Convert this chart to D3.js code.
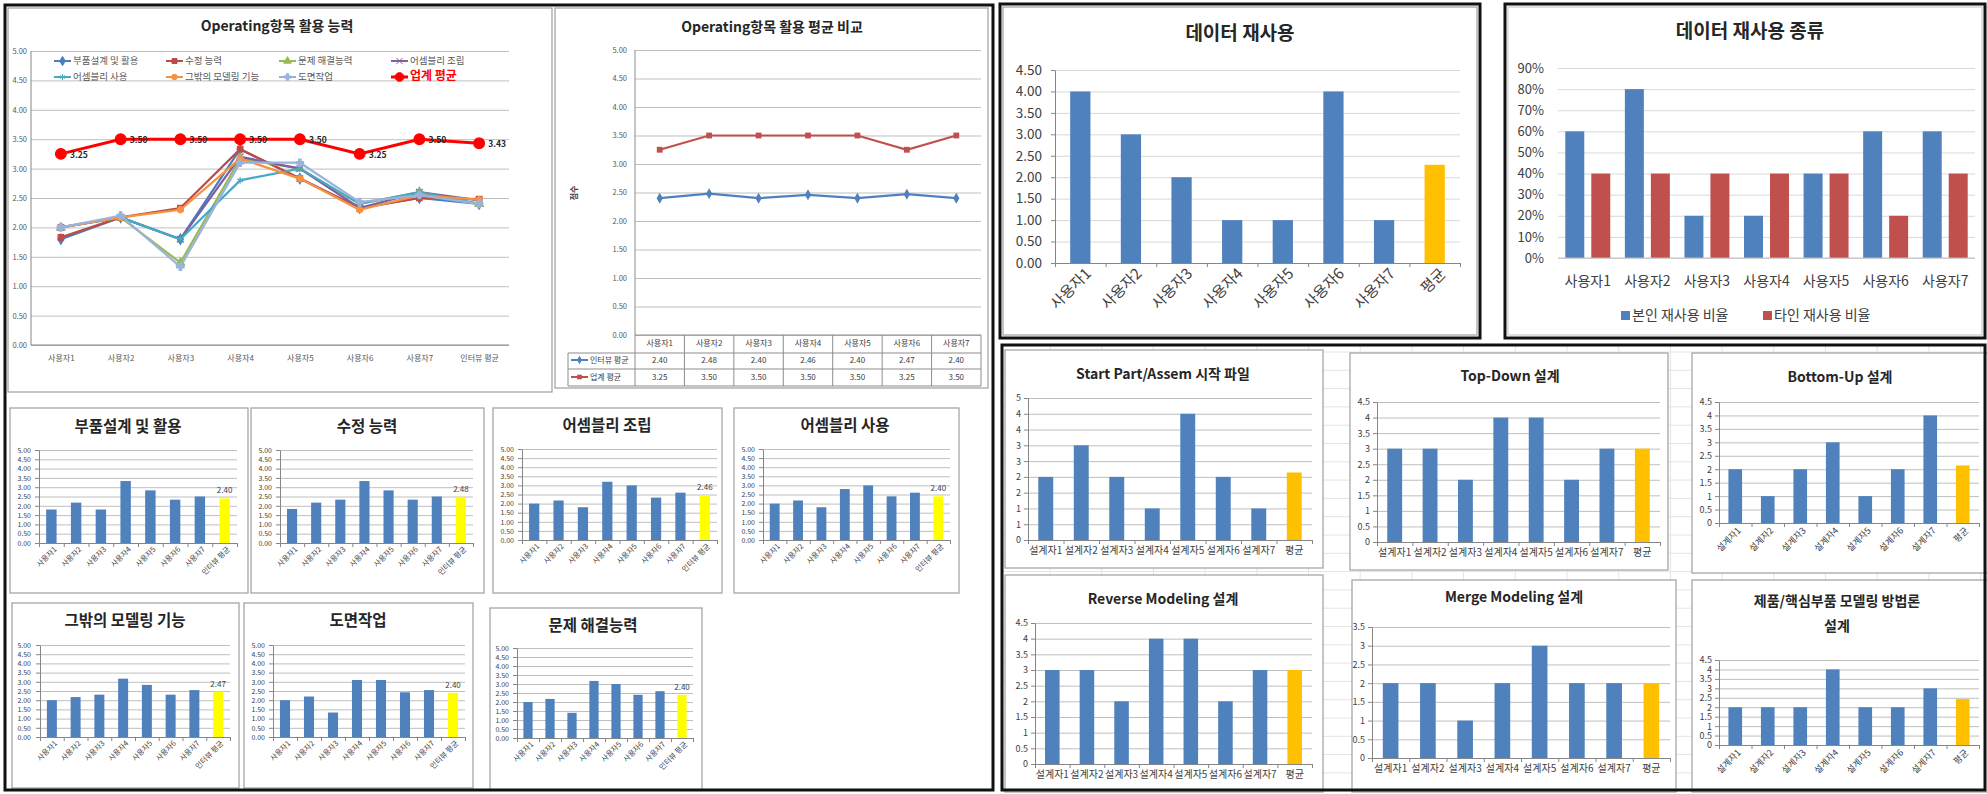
<!DOCTYPE html>
<html>
<head>
<meta charset="utf-8">
<script src="https://cdn.jsdelivr.net/npm/d3@7"></script>
<style>
body { margin: 0; background: #fff; }
svg { display: block; }
</style>
</head>
<body>
<svg id="chart" width="1987" height="794"></svg>
<script>
// ---- data ----
const users7 = ["사용자1", "사용자2", "사용자3", "사용자4", "사용자5", "사용자6", "사용자7"];
const usersAvg = users7.concat(["인터뷰 평균"]);
const designers = ["설계자1", "설계자2", "설계자3", "설계자4", "설계자5", "설계자6", "설계자7", "평균"];

// operating item scores (사용자1..7) and interview average
const partDesign = [1.80, 2.17, 1.80, 3.33, 2.83, 2.33, 2.50];
const partDesignAvg = 2.40;
const modifyAbility = [1.83, 2.17, 2.33, 3.33, 2.83, 2.33, 2.50];
const modifyAbilityAvg = 2.48;
const problemSolving = [2.00, 2.17, 1.40, 3.17, 3.00, 2.40, 2.60];
const problemSolvingAvg = 2.40;
const asmBuild = [2.00, 2.17, 1.80, 3.20, 3.00, 2.33, 2.60];
const asmBuildAvg = 2.46;
const asmUse = [2.00, 2.17, 1.80, 2.80, 3.00, 2.40, 2.60];
const asmUseAvg = 2.40;
const otherModeling = [2.00, 2.17, 2.30, 3.17, 2.83, 2.30, 2.55];
const otherModelingAvg = 2.47;
const drawing = [2.00, 2.20, 1.33, 3.10, 3.10, 2.43, 2.55];
const drawingAvg = 2.40;
const industryLine = [3.25, 3.50, 3.50, 3.50, 3.50, 3.25, 3.50, 3.43];

// average comparison table
const interviewAvg = [2.40, 2.48, 2.40, 2.46, 2.40, 2.47, 2.40];
const industryAvg = [3.25, 3.50, 3.50, 3.50, 3.50, 3.25, 3.50];

// data reuse
const reuse = [4, 3, 2, 1, 1, 4, 1];
const reuseAvg = 2.29;
const ownReuse = [0.6, 0.8, 0.2, 0.2, 0.4, 0.6, 0.6];
const otherReuse = [0.4, 0.4, 0.4, 0.4, 0.4, 0.2, 0.4];

// design methods (설계자1..7) and average
const startPart = [2, 3, 2, 1, 4, 2, 1];
const startPartAvg = 2.14;
const topDown = [3, 3, 2, 4, 4, 2, 3];
const topDownAvg = 3.0;
const bottomUp = [2, 1, 2, 3, 1, 2, 4];
const bottomUpAvg = 2.14;
const reverseModel = [3, 3, 2, 4, 4, 2, 3];
const reverseModelAvg = 3.0;
const mergeModel = [2, 2, 1, 2, 3, 2, 2];
const mergeModelAvg = 2.0;
const productModel = [2, 2, 2, 4, 2, 2, 3];
const productModelAvg = 2.43;

const FONT = "'Noto Sans CJK KR','Noto Sans',sans-serif";
const BLUE = "#4F81BD", RED = "#C0504D";
const svg = d3.select("#chart").attr("font-family", FONT);

// ---- generic bar chart ----
function bars(o) {
  const g = svg.append("g");
  g.append("rect").attr("x", o.box[0]).attr("y", o.box[1]).attr("width", o.box[2]).attr("height", o.box[3])
    .attr("fill", "#fff").attr("stroke", "#A6A6A6").attr("stroke-width", 1.3);
  o.title.forEach((t, i) => {
    g.append("text").attr("x", o.tx).attr("y", o.ty + i * (o.tlh || 0)).attr("text-anchor", "middle")
      .attr("dominant-baseline", "middle").attr("font-size", o.tsize).attr("font-weight", "bold")
      .attr("fill", "#262626").text(t);
  });
  const [x0, x1, yT, yB] = o.plot;
  const vals = o.vals.concat([o.avg]);
  const x = d3.scaleBand().domain(o.cats).range([x0, x1]).paddingInner(o.pad).paddingOuter(o.pad / 2);
  const y = d3.scaleLinear().domain([0, o.yMax]).range([yB, yT]);
  const ticks = d3.range(0, o.yMax + 1e-9, o.yStep);

  g.append("g").attr("transform", `translate(${x0},0)`)
    .call(d3.axisLeft(y).tickValues(ticks).tickSize(-(x1 - x0)).tickFormat(""))
    .call(a => a.select(".domain").remove())
    .selectAll("line").attr("stroke", o.grid || "#BFBFBF");

  g.append("g").attr("transform", `translate(${o.ylx},0)`)
    .call(d3.axisLeft(y).tickValues(ticks).tickSize(0).tickPadding(0).tickFormat(o.yFmt))
    .attr("font-family", FONT)
    .call(a => a.select(".domain").remove())
    .selectAll("text").attr("font-size", o.yFont).attr("fill", o.txt || "#404040");

  g.selectAll("rect.bar").data(vals).join("rect").attr("class", "bar")
    .attr("x", (d, i) => x(o.cats[i])).attr("y", d => y(d))
    .attr("width", x.bandwidth()).attr("height", d => yB - y(d))
    .attr("fill", (d, i) => i === vals.length - 1 ? o.avgColor : BLUE);

  // axes lines and tick marks
  g.append("g").attr("transform", `translate(${x0},0)`)
    .call(d3.axisLeft(y).tickValues(ticks).tickSize(4).tickSizeOuter(0).tickFormat(""))
    .selectAll("path,line").attr("stroke", "#868686");
  const xe = d3.scaleLinear().domain([0, o.cats.length]).range([x0, x1]);
  g.append("g").attr("transform", `translate(0,${yB})`)
    .call(d3.axisBottom(xe).ticks(o.cats.length).tickSize(4).tickSizeOuter(0).tickFormat(""))
    .selectAll("path,line").attr("stroke", "#868686");

  const xl = g.append("g").attr("transform", `translate(0,${yB})`)
    .call(d3.axisBottom(x).tickSize(0).tickPadding(o.xpad))
    .attr("font-family", FONT)
    .call(a => a.select(".domain").remove());
  xl.selectAll("text").attr("font-size", o.xFont).attr("fill", o.txt || "#404040");
  if (o.rot) {
    xl.selectAll("text").attr("x", 0).attr("y", 0).attr("dy", "0.35em")
      .attr("text-anchor", "end")
      .attr("transform", `translate(${o.rdx || 4},${o.xpad}) rotate(-45)`);
  }
  if (o.avgLabel) {
    g.append("text").attr("x", x(o.cats[o.cats.length - 1]) + x.bandwidth() / 2).attr("y", y(o.avg) - 5)
      .attr("text-anchor", "middle").attr("font-size", 8).attr("fill", "#404040").text(o.avgLabel);
  }
}

// ---- left panel : operating line chart ----
(function () {
  const g = svg.append("g");
  g.append("rect").attr("x", 8).attr("y", 8).attr("width", 544).attr("height", 384)
    .attr("fill", "#fff").attr("stroke", "#A6A6A6").attr("stroke-width", 1.3);
  g.append("text").attr("x", 277).attr("y", 27).attr("text-anchor", "middle").attr("dominant-baseline", "middle")
    .attr("font-size", 14).attr("font-weight", "bold").attr("fill", "#262626").text("Operating항목 활용 능력");

  const x = d3.scalePoint().domain(usersAvg).range([31, 509]).padding(0.5);
  const y = d3.scaleLinear().domain([0, 5]).range([345, 51]);
  const ticks = d3.range(0, 5.001, 0.5);
  g.append("g").attr("transform", "translate(31,0)")
    .call(d3.axisLeft(y).tickValues(ticks).tickSize(-478).tickFormat(""))
    .call(a => a.select(".domain").remove())
    .selectAll("line").attr("stroke", "#BFBFBF");
  g.append("g").attr("transform", "translate(27,0)")
    .call(d3.axisLeft(y).tickValues(ticks).tickSize(0).tickPadding(0).tickFormat(d3.format(".2f")))
    .attr("font-family", FONT)
    .call(a => a.select(".domain").remove())
    .selectAll("text").attr("font-size", 7.5).attr("fill", "#595959");
  g.append("line").attr("x1", 31).attr("x2", 31).attr("y1", 51).attr("y2", 345).attr("stroke", "#868686");
  g.append("line").attr("x1", 31).attr("x2", 509).attr("y1", 345).attr("y2", 345).attr("stroke", "#868686");
  g.append("g").attr("transform", "translate(0,345)")
    .call(d3.axisBottom(x).tickSize(0).tickPadding(10))
    .attr("font-family", FONT)
    .call(a => a.select(".domain").remove())
    .selectAll("text").attr("font-size", 8).attr("fill", "#595959");

  const series = [
    { name: "부품설계 및 활용", v: partDesign.concat([partDesignAvg]), c: "#4A7EBB", s: d3.symbolDiamond },
    { name: "수정 능력", v: modifyAbility.concat([modifyAbilityAvg]), c: "#BE4B48", s: d3.symbolSquare },
    { name: "문제 해결능력", v: problemSolving.concat([problemSolvingAvg]), c: "#98B954", s: d3.symbolTriangle },
    { name: "어셈블리 조립", v: asmBuild.concat([asmBuildAvg]), c: "#7D60A0", s: d3.symbolTimes || d3.symbolCross },
    { name: "어셈블리 사용", v: asmUse.concat([asmUseAvg]), c: "#46AAC5", s: d3.symbolAsterisk || d3.symbolStar },
    { name: "그밖의 모델링 기능", v: otherModeling.concat([otherModelingAvg]), c: "#F69240", s: d3.symbolCircle },
    { name: "도면작업", v: drawing.concat([drawingAvg]), c: "#98B4DC", s: d3.symbolCross },
    { name: "업계 평균", v: industryLine, c: "#FF0000", s: d3.symbolCircle, big: true }
  ];
  const line = d3.line().x((d, i) => x(usersAvg[i])).y(d => y(d));
  series.forEach(s => {
    g.append("path").attr("d", line(s.v)).attr("fill", "none").attr("stroke", s.c)
      .attr("stroke-width", s.big ? 3 : 2.2);
    g.selectAll(null).data(s.v).join("path")
      .attr("transform", (d, i) => `translate(${x(usersAvg[i])},${y(d)})`)
      .attr("d", d3.symbol().type(s.s).size(s.big ? 90 : 30))
      .attr("fill", s.c).attr("stroke", s.c).attr("stroke-width", 1.2);
  });
  g.selectAll("text.lbl").data(industryLine).join("text").attr("class", "lbl")
    .attr("x", (d, i) => x(usersAvg[i]) + 9).attr("y", d => y(d) + 4)
    .attr("font-size", 8.5).attr("font-weight", "bold").attr("fill", "#262626")
    .text(d => d.toFixed(2));

  // legend
  const lx = [54, 166, 279, 391], ly = [61, 77];
  series.forEach((s, i) => {
    const cx = lx[i % 4], cy = ly[Math.floor(i / 4)];
    g.append("line").attr("x1", cx).attr("x2", cx + 17).attr("y1", cy).attr("y2", cy)
      .attr("stroke", s.c).attr("stroke-width", s.big ? 3 : 2);
    g.append("path").attr("transform", `translate(${cx + 8.5},${cy})`)
      .attr("d", d3.symbol().type(s.s).size(s.big ? 60 : 25)).attr("fill", s.c).attr("stroke", s.c);
    g.append("text").attr("x", cx + 19).attr("y", cy).attr("dominant-baseline", "middle")
      .attr("font-size", s.big ? 12 : 9.5).attr("font-weight", s.big ? "bold" : "normal")
      .attr("fill", s.big ? "#FF0000" : "#595959").text(s.name);
  });
})();

// ---- left panel : average comparison ----
(function () {
  const g = svg.append("g");
  g.append("rect").attr("x", 555).attr("y", 8).attr("width", 433).attr("height", 380)
    .attr("fill", "#fff").attr("stroke", "#A6A6A6").attr("stroke-width", 1.3);
  g.append("text").attr("x", 772).attr("y", 28).attr("text-anchor", "middle").attr("dominant-baseline", "middle")
    .attr("font-size", 14).attr("font-weight", "bold").attr("fill", "#262626").text("Operating항목 활용 평균 비교");
  const x = d3.scaleBand().domain(users7).range([635, 981]);
  const y = d3.scaleLinear().domain([0, 5]).range([335, 50]);
  const ticks = d3.range(0, 5.001, 0.5);
  g.append("g").attr("transform", "translate(635,0)")
    .call(d3.axisLeft(y).tickValues(ticks).tickSize(-346).tickFormat(""))
    .call(a => a.select(".domain").remove())
    .selectAll("line").attr("stroke", "#BFBFBF");
  g.append("g").attr("transform", "translate(627,0)")
    .call(d3.axisLeft(y).tickValues(ticks).tickSize(0).tickPadding(0).tickFormat(d3.format(".2f")))
    .attr("font-family", FONT)
    .call(a => a.select(".domain").remove())
    .selectAll("text").attr("font-size", 7.5).attr("fill", "#595959");
  g.append("text").attr("transform", "translate(577,193) rotate(-90)").attr("text-anchor", "middle")
    .attr("font-size", 8).attr("font-weight", "bold").attr("fill", "#404040").text("점수");

  // table grid
  const tRows = [335, 353, 369, 386];
  const stroke = "#8C8C8C";
  g.append("line").attr("x1", 635).attr("x2", 635).attr("y1", 50).attr("y2", 386).attr("stroke", stroke);
  tRows.forEach((ty, i) => g.append("line").attr("x1", i === 0 ? 635 : 568).attr("x2", 981)
    .attr("y1", ty).attr("y2", ty).attr("stroke", stroke));
  g.append("line").attr("x1", 568).attr("x2", 568).attr("y1", 353).attr("y2", 386).attr("stroke", stroke);
  users7.forEach(u => g.append("line").attr("x1", x(u) + x.bandwidth()).attr("x2", x(u) + x.bandwidth())
    .attr("y1", 335).attr("y2", 386).attr("stroke", stroke));
  g.selectAll("text.hd").data(users7).join("text").attr("class", "hd")
    .attr("x", d => x(d) + x.bandwidth() / 2).attr("y", 344).attr("text-anchor", "middle")
    .attr("dominant-baseline", "middle").attr("font-size", 8).attr("fill", "#404040").text(d => d);

  const rows = [
    { name: "인터뷰 평균", v: interviewAvg, c: BLUE, s: d3.symbolDiamond, ty: 361 },
    { name: "업계 평균", v: industryAvg, c: RED, s: d3.symbolSquare, ty: 378 }
  ];
  const line = d3.line().x((d, i) => x(users7[i]) + x.bandwidth() / 2).y(d => y(d));
  rows.forEach(r => {
    g.append("path").attr("d", line(r.v)).attr("fill", "none").attr("stroke", r.c).attr("stroke-width", 2.2);
    g.selectAll(null).data(r.v).join("path")
      .attr("transform", (d, i) => `translate(${x(users7[i]) + x.bandwidth() / 2},${y(d)})`)
      .attr("d", d3.symbol().type(r.s).size(34)).attr("fill", r.c);
    g.selectAll(null).data(r.v).join("text")
      .attr("x", (d, i) => x(users7[i]) + x.bandwidth() / 2).attr("y", r.ty).attr("text-anchor", "middle")
      .attr("dominant-baseline", "middle").attr("font-size", 8).attr("fill", "#404040").text(d => d.toFixed(2));
    g.append("line").attr("x1", 571).attr("x2", 588).attr("y1", r.ty - 1).attr("y2", r.ty - 1)
      .attr("stroke", r.c).attr("stroke-width", 2);
    g.append("path").attr("transform", `translate(579.5,${r.ty - 1})`)
      .attr("d", d3.symbol().type(r.s).size(22)).attr("fill", r.c);
    g.append("text").attr("x", 590).attr("y", r.ty).attr("dominant-baseline", "middle")
      .attr("font-size", 8).attr("fill", "#404040").text(r.name);
  });
})();

// ---- left panel : per item bar charts ----
const smallBase = { cats: usersAvg, avgColor: "#FFFF00", yMax: 5, yStep: 0.5, yFmt: d3.format(".2f"),
  yFont: 7, xFont: 7.5, rot: true, xpad: 5, pad: 0.58, tsize: 15.5, grid: "#BFBFBF" };
[
  { box: [10, 408, 238, 185], title: ["부품설계 및 활용"], tx: 128, ty: 428, plot: [39, 237, 450, 543], ylx: 31,
    vals: partDesign, avg: partDesignAvg, avgLabel: "2.40" },
  { box: [251, 408, 233, 185], title: ["수정 능력"], tx: 367, ty: 428, plot: [280, 473, 450, 543], ylx: 272,
    vals: modifyAbility, avg: modifyAbilityAvg, avgLabel: "2.48" },
  { box: [493, 408, 229, 185], title: ["어셈블리 조립"], tx: 607, ty: 427, plot: [522, 717, 449, 540], ylx: 514,
    vals: asmBuild, avg: asmBuildAvg, avgLabel: "2.46" },
  { box: [734, 408, 225, 185], title: ["어셈블리 사용"], tx: 845, ty: 427, plot: [763, 950, 449, 540], ylx: 755,
    vals: asmUse, avg: asmUseAvg, avgLabel: "2.40" },
  { box: [12, 603, 227, 185], title: ["그밖의 모델링 기능"], tx: 125, ty: 622, plot: [40, 230, 645, 737], ylx: 31,
    vals: otherModeling, avg: otherModelingAvg, avgLabel: "2.47" },
  { box: [244, 603, 229, 185], title: ["도면작업"], tx: 358, ty: 622, plot: [273, 465, 645, 737], ylx: 265,
    vals: drawing, avg: drawingAvg, avgLabel: "2.40" },
  { box: [490, 608, 212, 182], title: ["문제 해결능력"], tx: 593, ty: 627, plot: [517, 693, 648, 738], ylx: 509,
    vals: problemSolving, avg: problemSolvingAvg, avgLabel: "2.40" }
].forEach(c => bars(Object.assign({}, smallBase, c)));

// ---- data reuse ----
bars({ box: [1003, 7, 474, 328], title: ["데이터 재사용"], tx: 1240, ty: 35, tsize: 19,
  plot: [1055, 1460, 70, 263], ylx: 1042, cats: users7.concat(["평균"]), vals: reuse, avg: reuseAvg,
  avgColor: "#FFC000", yMax: 4.5, yStep: 0.5, yFmt: d3.format(".2f"), yFont: 13.5, xFont: 15,
  rot: true, rdx: 8, xpad: 8, pad: 0.6, grid: "#D9D9D9", txt: "#404040" });

// ---- data reuse kind (grouped) ----
(function () {
  const g = svg.append("g");
  g.append("rect").attr("x", 1508).attr("y", 7).attr("width", 474).attr("height", 328)
    .attr("fill", "#fff").attr("stroke", "#BFBFBF");
  g.append("text").attr("x", 1750).attr("y", 33).attr("text-anchor", "middle").attr("dominant-baseline", "middle")
    .attr("font-size", 19).attr("font-weight", "bold").attr("fill", "#262626").text("데이터 재사용 종류");
  const x0 = d3.scaleBand().domain(users7).range([1558, 1975]).paddingInner(0.245).paddingOuter(0.1225);
  const x1 = d3.scaleBand().domain(["own", "other"]).range([0, x0.bandwidth()]).paddingInner(0.27);
  const y = d3.scaleLinear().domain([0, 0.9]).range([258, 68]);
  const ticks = d3.range(0, 0.9001, 0.1);
  g.append("g").attr("transform", "translate(1558,0)")
    .call(d3.axisLeft(y).tickValues(ticks).tickSize(-417).tickFormat(""))
    .call(a => a.select(".domain").remove())
    .selectAll("line").attr("stroke", "#D9D9D9");
  g.append("g").attr("transform", "translate(1544,0)")
    .call(d3.axisLeft(y).tickValues(ticks).tickSize(0).tickPadding(0).tickFormat(d3.format(".0%")))
    .attr("font-family", FONT)
    .call(a => a.select(".domain").remove())
    .selectAll("text").attr("font-size", 13).attr("fill", "#404040");
  users7.forEach((u, i) => {
    g.append("rect").attr("x", x0(u) + x1("own")).attr("y", y(ownReuse[i]))
      .attr("width", x1.bandwidth()).attr("height", 258 - y(ownReuse[i])).attr("fill", BLUE);
    g.append("rect").attr("x", x0(u) + x1("other")).attr("y", y(otherReuse[i]))
      .attr("width", x1.bandwidth()).attr("height", 258 - y(otherReuse[i])).attr("fill", RED);
  });
  g.append("line").attr("x1", 1558).attr("x2", 1975).attr("y1", 258).attr("y2", 258).attr("stroke", "#BFBFBF");
  g.append("g").attr("transform", "translate(0,258)")
    .call(d3.axisBottom(x0).tickSize(0).tickPadding(18))
    .attr("font-family", FONT)
    .call(a => a.select(".domain").remove())
    .selectAll("text").attr("font-size", 14).attr("fill", "#404040");
  const leg = [{ n: "본인 재사용 비율", c: BLUE, x: 1621 }, { n: "타인 재사용 비율", c: RED, x: 1763 }];
  leg.forEach(l => {
    g.append("rect").attr("x", l.x).attr("y", 311).attr("width", 9).attr("height", 9).attr("fill", l.c);
    g.append("text").attr("x", l.x + 11).attr("y", 316).attr("dominant-baseline", "middle")
      .attr("font-size", 14).attr("fill", "#404040").text(l.n);
  });
})();

// ---- worksheet cell lines behind the design charts ----
(function () {
  const g = svg.append("g").attr("stroke", "#E4E4E4").attr("stroke-width", 1);
  d3.range(1050, 1985, 51.7).forEach(v => g.append("line").attr("x1", v).attr("x2", v).attr("y1", 345).attr("y2", 790));
  d3.range(352, 790, 18.3).forEach(v => g.append("line").attr("x1", 1002).attr("x2", 1985).attr("y1", v).attr("y2", v));
})();

// ---- design method charts ----
const dBase = { cats: designers, avgColor: "#FFC000", yStep: 0.5, yFont: 9, xFont: 10, pad: 0.58,
  tsize: 14, grid: "#BFBFBF", txt: "#404040", xpad: 7 };
[
  { box: [1005, 350, 318, 218], title: ["Start Part/Assem 시작 파일"], tx: 1163, ty: 375,
    plot: [1028, 1312, 398, 540], ylx: 1021, yMax: 4.5, yFmt: d => Math.round(d),
    vals: startPart, avg: startPartAvg },
  { box: [1350, 353, 318, 217], title: ["Top-Down 설계"], tx: 1510, ty: 377,
    plot: [1377, 1660, 402, 542], ylx: 1370, yMax: 4.5, yFmt: d => +d.toFixed(1),
    vals: topDown, avg: topDownAvg },
  { box: [1692, 353, 300, 220], title: ["Bottom-Up 설계"], tx: 1840, ty: 378,
    plot: [1719, 1979, 402, 523], ylx: 1712, yMax: 4.5, yFmt: d => +d.toFixed(1),
    vals: bottomUp, avg: bottomUpAvg, rot: true, xpad: 6, xFont: 9 },
  { box: [1005, 575, 318, 217], title: ["Reverse Modeling 설계"], tx: 1163, ty: 600,
    plot: [1035, 1312, 623, 764], ylx: 1028, yMax: 4.5, yFmt: d => +d.toFixed(1),
    vals: reverseModel, avg: reverseModelAvg },
  { box: [1352, 580, 324, 212], title: ["Merge Modeling 설계"], tx: 1514, ty: 598,
    plot: [1372, 1670, 627, 758], ylx: 1365, yMax: 3.5, yFmt: d => +d.toFixed(1),
    vals: mergeModel, avg: mergeModelAvg },
  { box: [1692, 580, 300, 212], title: ["제품/핵심부품 모델링 방법론", "설계"], tx: 1837, ty: 602, tlh: 25,
    plot: [1719, 1979, 660, 745], ylx: 1712, yMax: 4.5, yFmt: d => +d.toFixed(1),
    vals: productModel, avg: productModelAvg, rot: true, xpad: 6, xFont: 9 }
].forEach(c => bars(Object.assign({}, dBase, c)));

// ---- outer frames ----
[[5, 5, 988, 785], [1000, 4, 480, 334], [1505, 4, 480, 334], [1002, 345, 983, 445]].forEach(f => {
  svg.append("rect").attr("x", f[0]).attr("y", f[1]).attr("width", f[2]).attr("height", f[3])
    .attr("fill", "none").attr("stroke", "#111").attr("stroke-width", 3);
});
</script>
</body>
</html>
